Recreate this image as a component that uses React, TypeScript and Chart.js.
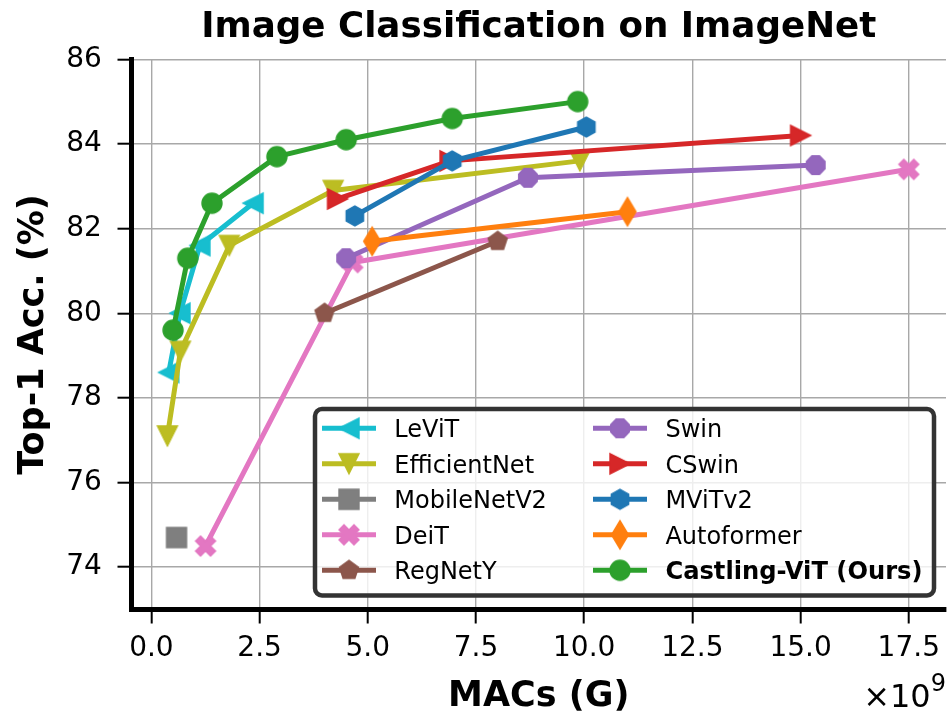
import React, { useEffect, useRef } from 'react';
import { Chart, registerables } from 'chart.js';

Chart.register(...registerables);

// ---------- data ----------
const seriesNames = [
  'LeViT',
  'EfficientNet',
  'MobileNetV2',
  'DeiT',
  'RegNetY',
  'Swin',
  'CSwin',
  'MViTv2',
  'Autoformer',
  'Castling-ViT (Ours)',
];

const levitMacs = [0.4, 0.66, 1.12, 2.35];
const levitAcc = [78.6, 80.0, 81.6, 82.6];

const effnetMacs = [0.37, 0.67, 1.8, 4.2, 9.9];
const effnetAcc = [77.1, 79.1, 81.6, 82.9, 83.6];

const mobilenetMacs = [0.58];
const mobilenetAcc = [74.7];

const deitMacs = [1.25, 4.65, 17.5];
const deitAcc = [74.5, 81.2, 83.4];

const regnetMacs = [4.0, 8.0];
const regnetAcc = [80.0, 81.7];

const swinMacs = [4.5, 8.7, 15.35];
const swinAcc = [81.3, 83.2, 83.5];

const cswinMacs = [4.3, 6.9, 15.0];
const cswinAcc = [82.7, 83.6, 84.2];

const mvitMacs = [4.7, 6.95, 10.05];
const mvitAcc = [82.3, 83.6, 84.4];

const autoformerMacs = [5.1, 11.0];
const autoformerAcc = [81.7, 82.4];

const castlingMacs = [0.5, 0.84, 1.4, 2.9, 4.5, 6.95, 9.85];
const castlingAcc = [79.6, 81.3, 82.6, 83.7, 84.1, 84.6, 85.0];

const xTickValues = [0, 2.5, 5, 7.5, 10, 12.5, 15, 17.5];
const yTickValues = [74, 76, 78, 80, 82, 84, 86];

const allMacs = [levitMacs, effnetMacs, mobilenetMacs, deitMacs, regnetMacs, swinMacs, cswinMacs, mvitMacs, autoformerMacs, castlingMacs];
const allAcc = [levitAcc, effnetAcc, mobilenetAcc, deitAcc, regnetAcc, swinAcc, cswinAcc, mvitAcc, autoformerAcc, castlingAcc];

// ---------- styles ----------
const seriesColors = ['#17becf', '#bcbd22', '#7f7f7f', '#e377c2', '#8c564b', '#9467bd', '#d62728', '#1f77b4', '#ff7f0e', '#2ca02c'];
const seriesMarkers = ['triLeft', 'triDown', 'square', 'xFilled', 'pentagon', 'octagon', 'triRight', 'hexagon', 'thinDiamond', 'circle'];

const FONT = "'DejaVu Sans', sans-serif";
const AREA = { left: 131.5, top: 59.3, right: 946, bottom: 609.5 };

function makeMarker(shape: string, color: string): HTMLCanvasElement {
  const S = 36;
  const c = document.createElement('canvas');
  c.width = S;
  c.height = S;
  const g = c.getContext('2d')!;
  g.translate(S / 2, S / 2);
  g.fillStyle = color;
  g.strokeStyle = color;
  g.lineWidth = 1.4;
  g.lineJoin = 'miter';
  g.beginPath();
  const poly = (pts: number[][]) => {
    pts.forEach(([x, y], i) => (i ? g.lineTo(x, y) : g.moveTo(x, y)));
    g.closePath();
  };
  const reg = (n: number, r: number, rot: number) => {
    const pts: number[][] = [];
    for (let k = 0; k < n; k++) {
      const a = rot + (k * 2 * Math.PI) / n;
      pts.push([r * Math.sin(a), -r * Math.cos(a)]);
    }
    poly(pts);
  };
  const r = 10;
  switch (shape) {
    case 'circle':
      g.arc(0, 0, r, 0, Math.PI * 2);
      break;
    case 'triLeft':
      poly([[-r, 0], [r, -r], [r, r]]);
      break;
    case 'triRight':
      poly([[r, 0], [-r, -r], [-r, r]]);
      break;
    case 'triDown':
      poly([[0, r], [-r, -r], [r, -r]]);
      break;
    case 'square':
      poly([[-r, -r], [r, -r], [r, r], [-r, r]]);
      break;
    case 'pentagon':
      reg(5, r, 0);
      break;
    case 'hexagon':
      reg(6, r, 0);
      break;
    case 'octagon':
      reg(8, r, Math.PI / 8);
      break;
    case 'thinDiamond': {
      const h = 14.1;
      const w = 0.6 * h;
      poly([[0, -h], [w, 0], [0, h], [-w, 0]]);
      break;
    }
    case 'xFilled': {
      const q = 5;
      poly([
        [-1, -2], [0, -1], [1, -2], [2, -1], [1, 0], [2, 1],
        [1, 2], [0, 1], [-1, 2], [-2, 1], [-1, 0], [-2, -1],
      ].map(([x, y]) => [x * q, y * q]));
      break;
    }
  }
  g.fill();
  g.stroke();
  return c;
}

export default function App() {
  const canvasRef = useRef<HTMLCanvasElement | null>(null);

  useEffect(() => {
    document.body.style.margin = '0';
    const canvas = canvasRef.current;
    if (!canvas) return;

    const markers = seriesMarkers.map((m, i) => makeMarker(m, seriesColors[i]));

    const datasets = seriesNames.map((name, i) => ({
      label: name,
      data: allMacs[i].map((x, j) => ({ x, y: allAcc[i][j] })),
      showLine: allMacs[i].length > 1,
      borderColor: seriesColors[i],
      backgroundColor: seriesColors[i],
      borderWidth: 5,
      borderJoinStyle: 'round' as const,
      pointStyle: markers[i],
      pointRadius: 10,
      pointHoverRadius: 10,
      order: seriesNames.length - i,
      clip: false as any,
    }));

    const fixArea = {
      id: 'fixArea',
      afterLayout(chart: any) {
        const { left, top, right, bottom } = AREA;
        chart.chartArea.left = left;
        chart.chartArea.top = top;
        chart.chartArea.right = right;
        chart.chartArea.bottom = bottom;
        chart.chartArea.width = right - left;
        chart.chartArea.height = bottom - top;
        const x = chart.scales.x;
        x.left = left; x.right = right; x.width = right - left;
        x.top = bottom; x.bottom = 715; x.height = 715 - bottom;
        x.configure();
        const y = chart.scales.y;
        y.left = 0; y.right = left; y.width = left;
        y.top = top; y.bottom = bottom; y.height = bottom - top;
        y.configure();
      },
    };

    const overlay = {
      id: 'overlay',
      afterDraw(chart: any) {
        const ctx: CanvasRenderingContext2D = chart.ctx;
        ctx.save();
        ctx.fillStyle = '#000';
        // title
        ctx.font = `bold 35.7px ${FONT}`;
        ctx.textAlign = 'center';
        ctx.textBaseline = 'alphabetic';
        const ca = chart.chartArea;
        const cx = (ca.left + ca.right) / 2;
        ctx.fillText('Image Classification on ImageNet', cx, 37);
        // x label
        ctx.font = `bold 35px ${FONT}`;
        ctx.fillText('MACs (G)', cx, 706);
        // y label
        ctx.save();
        ctx.translate(43, (ca.top + ca.bottom) / 2);
        ctx.rotate(-Math.PI / 2);
        ctx.fillText('Top-1 Acc. (%)', 0, 0);
        ctx.restore();
        // offset text x10^9
        ctx.textAlign = 'right';
        ctx.font = `24px ${FONT}`;
        const supW = ctx.measureText('9').width;
        ctx.fillText('9', 946, 691);
        ctx.font = `32px ${FONT}`;
        ctx.fillText('\u00d710', 946 - supW, 707);

        // legend
        const bx = 315, by = 409, bw = 619, bh = 186.5, br = 7;
        ctx.beginPath();
        ctx.moveTo(bx + br, by);
        ctx.lineTo(bx + bw - br, by);
        ctx.arcTo(bx + bw, by, bx + bw, by + br, br);
        ctx.lineTo(bx + bw, by + bh - br);
        ctx.arcTo(bx + bw, by + bh, bx + bw - br, by + bh, br);
        ctx.lineTo(bx + br, by + bh);
        ctx.arcTo(bx, by + bh, bx, by + bh - br, br);
        ctx.lineTo(bx, by + br);
        ctx.arcTo(bx, by, bx + br, by, br);
        ctx.closePath();
        ctx.fillStyle = 'rgba(255,255,255,0.8)';
        ctx.fill();
        ctx.strokeStyle = '#333333';
        ctx.lineWidth = 4.5;
        ctx.stroke();

        ctx.textAlign = 'left';
        ctx.textBaseline = 'alphabetic';
        seriesNames.forEach((name, i) => {
          const col = i < 5 ? 0 : 1;
          const row = i % 5;
          const cy = 428.3 + row * 35.5;
          const lx0 = col ? 593 : 322;
          const lx1 = lx0 + 54;
          ctx.beginPath();
          ctx.moveTo(lx0, cy);
          ctx.lineTo(lx1, cy);
          ctx.strokeStyle = seriesColors[i];
          ctx.lineWidth = 5;
          ctx.stroke();
          const m = markers[i];
          ctx.drawImage(m, (lx0 + lx1) / 2 - m.width / 2, cy - m.height / 2);
          ctx.fillStyle = '#000';
          ctx.font = i === seriesNames.length - 1 ? `bold 24.2px ${FONT}` : `24px ${FONT}`;
          ctx.fillText(name, col ? 665.4 : 394.3, cy + 8.8);
        });
        ctx.restore();
      },
    };

    const chart = new Chart(canvas, {
      type: 'scatter',
      data: { datasets: datasets as any },
      options: {
        responsive: false,
        maintainAspectRatio: false,
        animation: false,
        events: [],
        layout: { padding: { left: 0, top: 59.3, right: 3, bottom: 0 } },
        plugins: {
          legend: { display: false },
          tooltip: { enabled: false },
          title: { display: false },
        },
        scales: {
          x: {
            type: 'linear',
            min: -0.46,
            max: 18.36,
            afterBuildTicks: (s: any) => {
              s.ticks = xTickValues.map((v) => ({ value: v }));
            },
            afterFit: (s: any) => {
              s.height = 105.5;
            },
            grid: { color: '#a8a8a8', lineWidth: 1.4, tickColor: '#000', tickWidth: 2, tickLength: 14, drawTicks: true },
            border: { display: true, color: '#000', width: 5 },
            ticks: {
              color: '#000',
              font: { family: FONT, size: 28 },
              padding: 8.5,
              maxRotation: 0,
              autoSkip: false,
              callback: (v: any) => Number(v).toFixed(1),
            },
          },
          y: {
            type: 'linear',
            min: 73,
            max: 86,
            afterBuildTicks: (s: any) => {
              s.ticks = yTickValues.map((v) => ({ value: v }));
            },
            afterFit: (s: any) => {
              s.width = 131.5;
            },
            grid: { color: '#a8a8a8', lineWidth: 1.4, tickColor: '#000', tickWidth: 2, tickLength: 14, drawTicks: true },
            border: { display: true, color: '#000', width: 5 },
            ticks: {
              color: '#000',
              font: { family: FONT, size: 28 },
              padding: 15.6,
              autoSkip: false,
              callback: (v: any) => String(v),
            },
          },
        },
      },
      plugins: [fixArea, overlay],
    });

    return () => {
      chart.destroy();
    };
  }, []);

  return (
    <div style={{ width: 949, height: 715 }}>
      <canvas ref={canvasRef} width={949} height={715} style={{ display: 'block', width: 949, height: 715 }} />
    </div>
  );
}
